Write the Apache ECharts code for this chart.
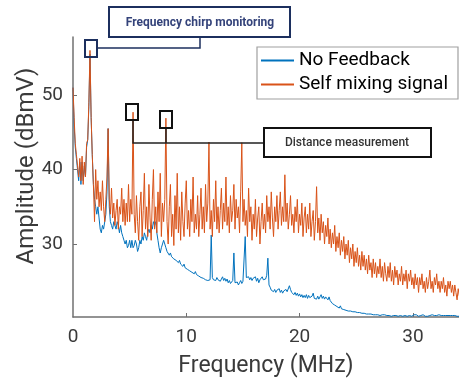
<!DOCTYPE html>
<html>
<head>
<meta charset="utf-8">
<title>Self mixing spectrum</title>
<script src="https://cdn.jsdelivr.net/npm/echarts@6.0.0/dist/echarts.min.js"></script>
<style>
  html, body { margin: 0; padding: 0; background: #fff; }
  #chart { width: 459px; height: 383px; }
</style>
</head>
<body>
<div id="chart"></div>
<script>
// frequency grid step (MHz), values every 0.1 MHz
const fStep = 0.1;

// Self mixing signal (dBmV), one row per MHz
const selfMixing = [
  51, 47, 43.5, 42, 40.5, 39, 41.5, 38.5, 41.8, 38, // 0
  41, 39, 43.5, 44, 49, 56, 47, 42, 38, 33, // 1
  40, 36, 38.5, 35, 37, 34.5, 38.5, 35, 33, 36, // 2
  39, 45.5, 36, 34, 37.5, 33.5, 35.5, 32.5, 34.5, 36, // 3
  32, 35, 34, 37.5, 33, 36, 32.5, 35.5, 33, 38, // 4
  33, 36, 34, 47.7, 34, 31.5, 36.5, 33, 30.5, 35, // 5
  37, 31, 34.5, 39.5, 32, 35, 31, 38, 33.5, 30.5, // 6
  36, 40, 32, 35, 31.5, 37, 33, 39.5, 31, 35.5, // 7
  33, 36, 46.9, 33, 30, 35, 38, 31, 34, 29.8, // 8
  36.5, 32, 39.5, 31.5, 35, 30.5, 37, 33, 31, 35.5, // 9
  38.5, 32, 34.5, 31, 36, 33, 39, 31.5, 34, 32, // 10
  36.5, 31, 34, 37.5, 32, 35, 31.5, 38, 33, 35.5, // 11
  43.7, 32, 34.5, 31, 36, 33, 38.5, 32, 35, 31.5, // 12
  34.5, 37.5, 32, 35.5, 33, 39, 32.5, 35, 31.5, 36.5, // 13
  33, 34.5, 38, 32, 36, 33.5, 35, 31.5, 37, 43.6, // 14
  33, 36, 32.5, 34.5, 31, 37.5, 33, 35, 30.5, 34, // 15
  32, 36, 31, 33.5, 35, 30, 33, 35.5, 32, 34, // 16
  31.5, 36.5, 33, 35, 32, 37, 33.5, 31, 35, 33, // 17
  36.5, 32, 34.5, 37, 32.5, 35, 33, 39.3, 33, 35.5, // 18
  32, 34, 36.5, 32.5, 34, 31.5, 35, 33, 36, 31.5, // 19
  34, 32.5, 35.5, 31, 33.5, 35, 31.5, 34, 32, 35.5, // 20
  31, 33, 34.5, 30.5, 33, 37.7, 31.5, 33.5, 30.5, 34, // 21
  31.5, 33, 30, 32.5, 31, 33.5, 30, 32, 29.5, 31.5, // 22
  30, 32.5, 29, 31, 29.5, 31.5, 28.5, 30.5, 29, 31, // 23
  28, 30, 28.5, 30.5, 27.5, 29.5, 28, 30, 27, 29, // 24
  27.5, 29.5, 27, 28.5, 26.5, 29, 27, 28.5, 26.5, 28, // 25
  26, 28.5, 26.5, 27.5, 25.5, 28, 26, 27.5, 25.5, 27, // 26
  26, 28, 25.5, 27, 25, 27.5, 26, 25, 27, 25.5, // 27
  27.5, 25, 26.5, 24.5, 27, 25.5, 26.5, 24.5, 26, 25, // 28
  27, 24.5, 26, 25, 26.5, 24, 26, 25, 26.5, 24.5, // 29
  25.5, 24, 26, 24.5, 25.5, 23.5, 25.5, 24.5, 26, 24, // 30
  25, 23.5, 25.5, 24, 25, 26.5, 24, 25, 23.5, 25.5, // 31
  24.5, 26, 24, 25, 23.5, 25, 24, 25.5, 23.5, 24.5, // 32
  23, 25, 24, 25, 23.5, 24.5, 23, 24.5, 23.5, 22.5, // 33
  24, 23 // 34
];

// No Feedback (dBmV)
const noFeedback = [
  51, 46, 43, 41.5, 40, 38.5, 41, 38, 41, 38.5, // 0
  40.5, 39, 43, 44, 48.5, 55.5, 47, 42, 38, 36, // 1
  35, 34, 35, 33.5, 32, 31.5, 32.5, 32, 33, 34, // 2
  37, 45.5, 35, 33, 32.5, 32, 33, 32.5, 32, 33, // 3
  32.5, 31.5, 32.5, 31.5, 31, 30.5, 30, 30.5, 29.5, 29.8, // 4
  30.5, 29.5, 30.5, 29.5, 29.8, 30.5, 30, 29, 29.5, 30.5, // 5
  30, 31, 30.5, 31.5, 31, 30.5, 31.5, 32, 31.5, 32.5, // 6
  32, 33, 32.5, 33, 31.5, 30.5, 29.5, 28.8, 29.5, 30, // 7
  30.5, 30, 29.5, 29, 29, 28.5, 28.8, 28.3, 28.5, 28, // 8
  28.2, 27.8, 28, 27.5, 27.8, 27.3, 27.5, 27, 27.3, 26.8, // 9
  27, 26.6, 26.8, 26.4, 26.6, 26.2, 26.4, 26, 26.3, 25.9, // 10
  26, 25.7, 25.9, 25.5, 25.7, 25.4, 25.6, 25.2, 25.4, 25.1, // 11
  25.3, 25.2, 31.2, 25.5, 25.2, 25.4, 25.1, 25.5, 25.2, 25.4, // 12
  25, 25.3, 25.6, 25.1, 25.4, 25, 25.3, 24.8, 25.1, 24.7, // 13
  24.9, 25.1, 28.8, 24.8, 24.6, 24.9, 24.5, 24.8, 25.1, 24.7, // 14
  25, 25.2, 31, 25.5, 25.3, 25.6, 25.2, 25.5, 25.1, 25.4, // 15
  25.2, 25.6, 25, 25.4, 24.8, 25.2, 25.1, 25.6, 25.2, 25.4, // 16
  25.3, 25.8, 28.1, 24.5, 24.2, 23.8, 24, 23.6, 23.9, 23.5, // 17
  23.8, 23.6, 24, 23.5, 23.8, 23.4, 23.7, 23.5, 23.9, 23.6, // 18
  23.8, 24.4, 23.9, 23.5, 23.7, 23.2, 23.5, 23.1, 23.4, 23, // 19
  23.3, 22.9, 23.2, 22.8, 23.1, 22.8, 23.2, 22.7, 23.1, 22.8, // 20
  22.6, 23, 23.4, 22.7, 22.9, 22.6, 23, 22.6, 22.9, 23.2, // 21
  22.7, 23, 22.6, 22.9, 22.7, 22.5, 22.9, 22.4, 22.6, 22, // 22
  22.2, 21.8, 22, 21.6, 21.8, 21.4, 21.7, 21.3, 21.5, 21.2, // 23
  21.4, 21.1, 21.3, 21, 21.2, 21, 21.2, 20.9, 21.1, 20.9, // 24
  21.1, 20.8, 21, 20.8, 21, 20.7, 20.9, 20.7, 20.9, 20.6, // 25
  20.8, 20.6, 20.8, 20.6, 20.8, 20.5, 20.7, 20.5, 20.7, 20.5, // 26
  20.7, 20.4, 20.6, 20.5, 20.7, 20.5, 20.6, 20.4, 20.6, 20.4, // 27
  20.5, 20.3, 20.5, 20.4, 20.6, 20.4, 20.5, 20.3, 20.5, 20.4, // 28
  20.6, 20.3, 20.5, 20.4, 20.5, 20.3, 20.5, 20.4, 20.6, 20.3, // 29
  20.4, 20.5, 20.3, 20.5, 20.4, 20.3, 20.5, 20.4, 20.3, 20.5, // 30
  20.4, 20.3, 20.4, 20.3, 20.5, 20.4, 20.3, 20.5, 20.3, 20.4, // 31
  20.3, 20.4, 20.3, 20.5, 20.3, 20.4, 20.3, 20.4, 20.3, 20.4, // 32
  20.3, 20.4, 20.3, 20.4, 20.3, 20.4, 20.3, 20.4, 20.3, 20.3, // 33
  20.4, 20.3 // 34
];

const xTicks = [0, 10, 20, 30];
const yTicks = [30, 40, 50];
const seriesNames = ["No Feedback", "Self mixing signal"];

const toPairs = (arr) => arr.map((v, i) => [Math.round(i * fStep * 10) / 10, v]);

const chart = echarts.init(document.getElementById("chart"));

const axisColor = "#707070";
const labelColor = "#3a3a3a";
const navy = "#1c2f5e";

chart.setOption({
  animation: false,
  textStyle: { fontFamily: "Roboto" },
  grid: { left: 73, right: 0, top: 37, bottom: 66 },
  legend: {
    orient: "vertical",
    left: 260,
    top: 50,
    padding: 0,
    itemWidth: 33,
    itemHeight: 14,
    itemGap: 3,
    z: 120,
    // hide the marker dot, keep only the line sample
    itemStyle: { color: "rgba(0,0,0,0)", borderColor: "rgba(0,0,0,0)", borderWidth: 0 },
    textStyle: { fontSize: 19, color: "#000", lineHeight: 21 },
    data: seriesNames,
  },
  xAxis: {
    type: "value",
    min: 0,
    max: 34.07,
    axisLine: { lineStyle: { color: axisColor, width: 1.5 } },
    axisTick: {
      inside: true,
      length: 4,
      customValues: xTicks.slice(1),
      lineStyle: { color: axisColor },
    },
    axisLabel: {
      customValues: xTicks,
      fontSize: 19,
      color: labelColor,
      margin: 11,
    },
    splitLine: { show: false },
    name: "Frequency (MHz)",
    nameLocation: "middle",
    nameGap: 38,
    nameTextStyle: { fontSize: 23, color: labelColor },
  },
  yAxis: {
    type: "value",
    min: 20.2,
    max: 57.8,
    axisLine: { show: true, lineStyle: { color: axisColor, width: 1.5 } },
    axisTick: {
      show: true,
      inside: true,
      length: 4,
      customValues: yTicks,
      lineStyle: { color: axisColor },
    },
    axisLabel: {
      customValues: yTicks,
      fontSize: 19,
      color: labelColor,
      margin: 10,
    },
    splitLine: { show: false },
  },
  series: [
    {
      name: seriesNames[0],
      type: "line",
      symbol: "none",
      data: toPairs(noFeedback),
      lineStyle: { color: "#0072BD", width: 1 },
      itemStyle: { color: "#0072BD" },
      z: 2,
    },
    {
      name: seriesNames[1],
      type: "line",
      symbol: "none",
      data: toPairs(selfMixing),
      lineStyle: { color: "#D95319", width: 1 },
      itemStyle: { color: "#D95319" },
      z: 3,
    },
  ],
  graphic: [
    // y axis title
    {
      type: "text",
      x: 27,
      y: 166,
      rotation: Math.PI / 2,
      style: {
        text: "Amplitude (dBmV)",
        font: '24px Roboto',
        fill: labelColor,
        align: "center",
        verticalAlign: "middle",
      },
    },
    // legend box
    {
      type: "rect",
      z: 105,
      shape: { x: 257, y: 47, width: 201, height: 52 },
      style: { fill: "#fff", stroke: "#a0a0a0", lineWidth: 1.2 },
    },
    // chirp annotation
    {
      type: "polyline",
      z: 100,
      shape: { points: [[200, 37], [200, 48], [97, 48]] },
      style: { stroke: navy, lineWidth: 1.5, fill: null },
    },
    {
      type: "rect",
      z: 100,
      shape: { x: 85, y: 40, width: 12, height: 17 },
      style: { fill: null, stroke: navy, lineWidth: 2 },
    },
    {
      type: "rect",
      z: 100,
      shape: { x: 109, y: 7, width: 181, height: 30 },
      style: { fill: "#fff", stroke: navy, lineWidth: 2 },
    },
    {
      type: "text",
      z: 101,
      x: 200,
      y: 23,
      style: {
        text: "Frequency chirp monitoring",
        font: 'bold 12px Roboto',
        fill: "#34437a",
        align: "center",
        verticalAlign: "middle",
      },
    },
    // distance annotation
    {
      type: "polyline",
      z: 100,
      shape: { points: [[133, 120], [133, 143], [264, 143]] },
      style: { stroke: "#222", lineWidth: 1.5, fill: null },
    },
    {
      type: "polyline",
      z: 100,
      shape: { points: [[166, 128], [166, 143]] },
      style: { stroke: "#222", lineWidth: 1.5, fill: null },
    },
    {
      type: "rect",
      z: 100,
      shape: { x: 126, y: 104, width: 12, height: 16 },
      style: { fill: null, stroke: "#111", lineWidth: 2 },
    },
    {
      type: "rect",
      z: 100,
      shape: { x: 160, y: 111, width: 12, height: 17 },
      style: { fill: null, stroke: "#111", lineWidth: 2 },
    },
    {
      type: "rect",
      z: 100,
      shape: { x: 264, y: 128, width: 167, height: 29 },
      style: { fill: "#fff", stroke: "#111", lineWidth: 2 },
    },
    {
      type: "text",
      z: 101,
      x: 347,
      y: 143,
      style: {
        text: "Distance measurement",
        font: '500 12px Roboto',
        fill: "#333",
        align: "center",
        verticalAlign: "middle",
      },
    },
  ],
});
</script>
</body>
</html>
